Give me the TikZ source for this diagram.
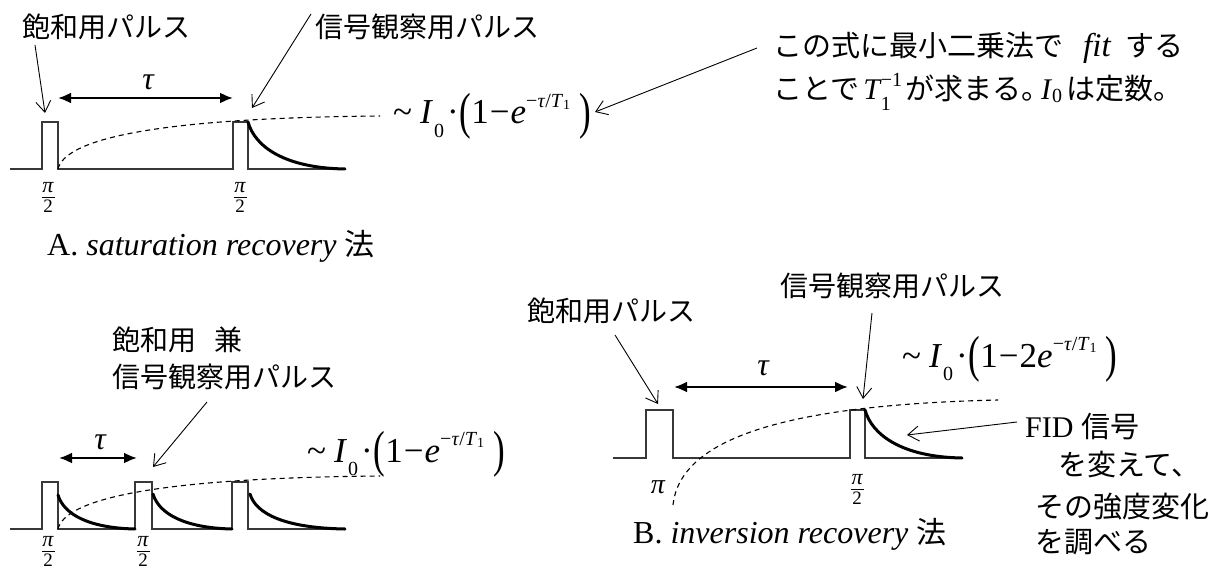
\documentclass[tikz,border=0pt]{standalone}
\usepackage{fontspec}
\setmainfont{Liberation Serif}
\newfontfamily\jp{Noto Sans CJK JP}
\usepackage{graphicx}
\usetikzlibrary{arrows.meta}

\newcommand{\smallfs}[1]{{\fontsize{20}{20}\selectfont #1}}
\newcommand{\tinyfs}[1]{{\fontsize{14}{14}\selectfont #1}}
\newcommand{\bigparen}[1]{\raisebox{-0.13em}{\scalebox{1}[1.45]{#1}}}
\newcommand{\recov}[1]{\textasciitilde\kern8pt\textit{I}\kern1pt\raisebox{-0.85ex}{\smallfs{0}}\kern3pt·\kern1pt\bigparen{(}1\kern1pt−\kern1pt#1\textit{e}\raisebox{1.05ex}{\smallfs{−\textit{τ}/\textit{T}\raisebox{-0.3ex}{\tinyfs{1}}}}\kern9pt\bigparen{)}}
\newcommand{\jpn}[1]{{\jp\fontsize{29}{32}\selectfont #1}}
% pi/2 fraction: name, x, y of the fraction bar
\newcommand{\hpi}[3]{%
  \node[fracpi] (#1a) at (#2,#3-9) {π};
  \node[fracd] (#1b) at (#2,#3+9.5) {2};
  \coordinate (#1l) at (#2-6.5,#3); \coordinate (#1r) at (#2+6.5,#3);
  \draw[line width=0.8pt] (#1l) -- (#1r);
}

\tikzset{
  jl/.style={font=\jp\fontsize{28}{32}\selectfont, inner sep=0pt, anchor=west},
  jn/.style={font=\fontsize{30}{34}\selectfont, inner sep=0pt, anchor=base west},
  captxt/.style={font=\fontsize{32}{36}\selectfont, inner sep=0pt, anchor=base west},
  fml/.style={font=\fontsize{35}{40}\selectfont, inner sep=0pt, anchor=base west},
  taulab/.style={font=\fontsize{32}{36}\selectfont\itshape, inner sep=0pt},
  fracpi/.style={font=\fontsize{22}{24}\selectfont\itshape, inner sep=0pt},
  fracd/.style={font=\fontsize{19}{21}\selectfont, inner sep=0pt},
  pulse/.style={line width=1.4pt, draw=black!78},
  decay/.style={line width=3pt, line cap=round},
  rec/.style={line width=1.1pt, dash pattern=on 5pt off 4pt},
  lab/.style={-{Straight Barb[length=11pt,width=15pt]}, line width=0.9pt},
  tauarr/.style={{Latex[length=13pt,width=11pt]}-{Latex[length=13pt,width=11pt]}, line width=2.2pt},
}

\begin{document}
\begin{tikzpicture}[x=1pt,y=-1pt]
\useasboundingbox[fill=white] (0,0) rectangle (1222,572);

% ---------- A: saturation recovery ----------
\draw[pulse] (10,169) -- (42,169) -- (42,122) -- (58,122) -- (58,169) -- (233,169) -- (233,122) -- (248,122) -- (248,169) -- (345,169);
\draw[rec] (58,169) .. controls (65,140) and (150,118) .. (380,116);
\draw[decay] (248,122) .. controls (255,147) and (285,168) .. (345,169);

\node[jl] (nA1) at (22,27) {飽和用パルス};
\node[jl] (nA2) at (315,27) {信号観察用パルス};
\coordinate (aA1s) at (35,45);  \coordinate (aA1e) at (45,113);
\coordinate (aA2s) at (311,14); \coordinate (aA2e) at (252,108);
\draw[lab] (aA1s) -- (aA1e);
\draw[lab] (aA2s) -- (aA2e);

\coordinate (tA1) at (58,98); \coordinate (tA2) at (233,98);
\draw[tauarr] (tA1) -- (tA2);
\node[taulab] (tauA) at (148,82) {τ};

\hpi{pA1}{48}{197}
\hpi{pA2}{240}{197}

\node[fml] (fA) at (393,124) {\recov{}};
\coordinate (aA3s) at (757,48); \coordinate (aA3e) at (595,112);
\draw[lab] (aA3s) -- (aA3e);

\node[jn] (noteA1) at (773,57) {\jpn{この式に最小二乗法で}\kern20pt{\fontsize{33}{36}\selectfont\textit{fit}}\kern14pt\jpn{する}};
\node[jn] (noteA2) at (773,100) {\jpn{ことで}\kern4pt\textit{T}\kern-1pt\rlap{\raisebox{-0.75ex}{\smallfs{1}}}\raisebox{0.95ex}{\smallfs{−1}}\kern3pt\jpn{が求まる。}\kern-9pt\textit{I}\raisebox{-0.2ex}{\smallfs{0}}\kern4pt\jpn{は定数。}};

\node[captxt] (capA) at (47,255) {A. \textit{saturation recovery} {\jp\fontsize{30}{32}\selectfont 法}};

% ---------- C: repeated saturation pulses ----------
\draw[pulse] (10,529) -- (42,529) -- (42,482) -- (58,482) -- (58,529) -- (135,529) -- (135,482) -- (152,482) -- (152,529) -- (232,529) -- (232,482) -- (248,482) -- (248,529) -- (345,529);
\draw[rec] (58,529) .. controls (65,500) and (150,478) .. (380,476);
\draw[decay] (58,495) .. controls (64,515) and (90,528) .. (135,529);
\draw[decay] (153,494) .. controls (159,514) and (185,528) .. (232,529);
\draw[decay] (250,494) .. controls (256,514) and (285,528) .. (345,529);

\node[jl] (nC1) at (112,340) {飽和用\hspace{0.65em}兼};
\node[jl] (nC2) at (112,377) {信号観察用パルス};
\coordinate (aCs) at (207,402); \coordinate (aCe) at (153,467);
\draw[lab] (aCs) -- (aCe);

\coordinate (tC1) at (59,458); \coordinate (tC2) at (137,458);
\draw[tauarr] (tC1) -- (tC2);
\node[taulab] (tauC) at (100,442) {τ};

\node[fml] (fC) at (307,462) {\recov{}};

\hpi{pC1}{48}{551}
\hpi{pC2}{143}{551}

% ---------- B: inversion recovery ----------
\draw[pulse] (613,458) -- (646,458) -- (646,410) -- (673,410) -- (673,458) -- (850,458) -- (850,410) -- (865,410) -- (865,458) -- (962,458);
\draw[rec] (673,505) .. controls (680,440) and (780,405) .. (998,400);
\draw[decay] (865,410) .. controls (872,435) and (902,457) .. (962,458);

\node[jl] (nB1) at (527,311) {飽和用パルス};
\node[jl] (nB2) at (780,286) {信号観察用パルス};
\coordinate (aB1s) at (615,335); \coordinate (aB1e) at (658,404);
\coordinate (aB2s) at (872,313); \coordinate (aB2e) at (863,399);
\draw[lab] (aB1s) -- (aB1e);
\draw[lab] (aB2s) -- (aB2e);

\coordinate (tB1) at (674,387); \coordinate (tB2) at (848,387);
\draw[tauarr] (tB1) -- (tB2);
\node[taulab] (tauB) at (763,368) {τ};

\node[fml] (fB) at (902,367) {\recov{2}};

\node[taulab, font=\fontsize{28}{30}\selectfont\itshape] (piB1) at (658,487) {π};
\hpi{piB2}{857}{489}

\node[captxt] (capB) at (633,543) {B. \textit{inversion recovery} {\jp\fontsize{30}{32}\selectfont 法}};

\node[jn] (fid1) at (1025,437) {FID \jpn{信号}};
\node[jl, font=\jp\fontsize{29}{32}\selectfont] (fid2) at (1058,465) {を変えて、};
\node[jl, font=\jp\fontsize{29}{32}\selectfont] (fid3) at (1035,507) {その強度変化};
\node[jl, font=\jp\fontsize{29}{32}\selectfont] (fid4) at (1035,542) {を調べる};
\coordinate (aFs) at (1017,422); \coordinate (aFe) at (907,435);
\draw[lab] (aFs) -- (aFe);
\end{tikzpicture}
\end{document}
